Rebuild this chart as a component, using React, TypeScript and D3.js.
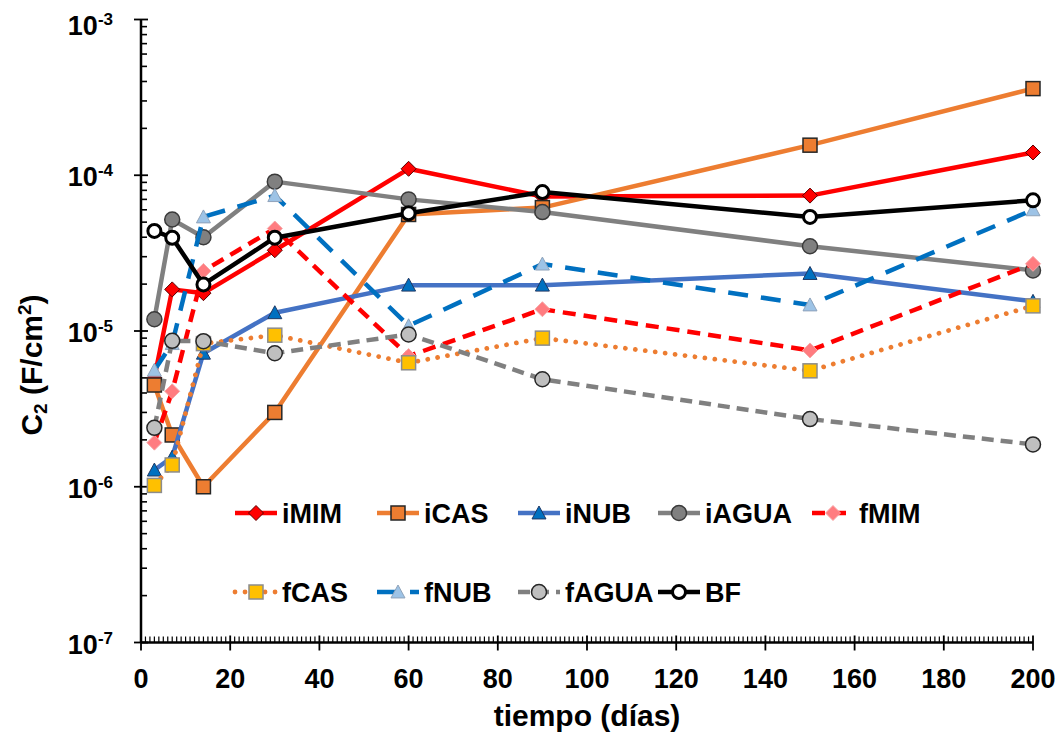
import React from "react";
import * as d3 from "d3";

// Immersion time (days)
const days = [3, 7, 14, 30, 60, 90, 150, 200];

// C2 capacitance (F/cm²) per coating / medium
const iMIM = [5.0e-6, 1.85e-5, 1.75e-5, 3.3e-5, 1.1e-4, 7.3e-5, 7.4e-5, 1.4e-4];
const iCAS = [4.5e-6, 2.15e-6, 1.0e-6, 3.0e-6, 5.6e-5, 6.2e-5, 1.56e-4, 3.6e-4];
const iNUB = [1.28e-6, 1.55e-6, 7.2e-6, 1.31e-5, 1.97e-5, 1.97e-5, 2.34e-5, 1.55e-5];
const iAGUA = [1.19e-5, 5.2e-5, 4.0e-5, 9.1e-5, 7.0e-5, 5.8e-5, 3.5e-5, 2.45e-5];
const fMIM = [1.92e-6, 4.1e-6, 2.43e-5, 4.55e-5, 6.9e-6, 1.38e-5, 7.5e-6, 2.7e-5];
const fCAS = [1.02e-6, 1.38e-6, 8.3e-6, 9.4e-6, 6.25e-6, 9.0e-6, 5.55e-6, 1.45e-5];
const fNUB = [5.6e-6, 8.3e-6, 5.4e-5, 7.4e-5, 1.08e-5, 2.69e-5, 1.47e-5, 6.0e-5];
const fAGUA = [2.39e-6, 8.65e-6, 8.6e-6, 7.2e-6, 9.5e-6, 4.9e-6, 2.72e-6, 1.87e-6];
const BF = [4.39e-5, 3.97e-5, 1.99e-5, 3.97e-5, 5.7e-5, 7.8e-5, 5.4e-5, 6.9e-5];

const xTicks = [0, 20, 40, 60, 80, 100, 120, 140, 160, 180, 200];
const yExponents = [-3, -4, -5, -6, -7];

type Shape = "diamond" | "square" | "triangle" | "circle";
interface Series {
  name: string;
  values: number[];
  color: string;
  dash?: string;
  cap?: "round" | "butt";
  width: number;
  shape: Shape;
  fill: string;
  stroke: string;
  strokeWidth: number;
  size: number;
}

const series: Series[] = [
  { name: "iMIM", values: iMIM, color: "#FF0000", width: 4.5, shape: "diamond", fill: "#FF0000", stroke: "#5a0000", strokeWidth: 1, size: 15 },
  { name: "iCAS", values: iCAS, color: "#ED7D31", width: 4.5, shape: "square", fill: "#ED7D31", stroke: "#262626", strokeWidth: 1.5, size: 14 },
  { name: "iNUB", values: iNUB, color: "#4472C4", width: 4.5, shape: "triangle", fill: "#0070C0", stroke: "#1F3864", strokeWidth: 1, size: 14 },
  { name: "iAGUA", values: iAGUA, color: "#808080", width: 4.5, shape: "circle", fill: "#808080", stroke: "#3a3a3a", strokeWidth: 1.5, size: 15 },
  { name: "fMIM", values: fMIM, color: "#FF0000", width: 4.5, dash: "13 8", shape: "diamond", fill: "#FF7C80", stroke: "#F7A8A8", strokeWidth: 1, size: 15 },
  { name: "fCAS", values: fCAS, color: "#ED7D31", width: 4.8, dash: "0.01 10", cap: "round", shape: "square", fill: "#FFC000", stroke: "#8C8C8C", strokeWidth: 1.5, size: 14 },
  { name: "fNUB", values: fNUB, color: "#0070C0", width: 4.5, dash: "20 13", shape: "triangle", fill: "#9DC3E6", stroke: "#8FA3BA", strokeWidth: 1, size: 14 },
  { name: "fAGUA", values: fAGUA, color: "#808080", width: 4.5, dash: "12 7", shape: "circle", fill: "#BFBFBF", stroke: "#262626", strokeWidth: 1.5, size: 15 },
  { name: "BF", values: BF, color: "#000000", width: 4.5, shape: "circle", fill: "#FFFFFF", stroke: "#000000", strokeWidth: 3, size: 13 },
];

const W = 1059;
const H = 736;
const FONT = "'Liberation Sans', Arial, Helvetica, sans-serif";

const x = d3.scaleLinear().domain([0, 200]).range([141, 1033]);
const y = d3.scaleLog().domain([1e-7, 1e-3]).range([642.5, 19.5]);

function Marker({ s, cx, cy }: { s: Series; cx: number; cy: number }) {
  const h = s.size / 2;
  const common = { fill: s.fill, stroke: s.stroke, strokeWidth: s.strokeWidth };
  if (s.shape === "circle") return <circle cx={cx} cy={cy} r={h} {...common} />;
  if (s.shape === "square")
    return <rect x={cx - h} y={cy - h} width={s.size} height={s.size} {...common} />;
  if (s.shape === "diamond")
    return <path d={`M${cx},${cy - h}L${cx + h},${cy}L${cx},${cy + h}L${cx - h},${cy}Z`} {...common} />;
  return (
    <path
      d={`M${cx},${cy - h}L${cx + h},${cy + h * 0.85}L${cx - h},${cy + h * 0.85}Z`}
      strokeLinejoin="miter"
      {...common}
    />
  );
}

const legendCols = [235, 377, 518, 658, 812];
const legendRows = [513, 592];

export default function App() {
  const line = d3
    .line<number>()
    .x((_, i) => x(days[i]))
    .y((v) => y(v));

  const minorY: number[] = [];
  for (let e = -7; e < -3; e++) {
    for (let k = 2; k <= 9; k++) minorY.push(k * Math.pow(10, e));
  }
  const minorX = d3.range(1, 201).filter((d) => d % 20 !== 0);

  const x0 = x(0);
  const yBase = y(1e-7);

  return (
    <svg
      width={W}
      height={H}
      viewBox={`0 0 ${W} ${H}`}
      style={{ position: "absolute", left: 0, top: 0, background: "#fff" }}
      fontFamily={FONT}
      fontWeight="bold"
    >
      <rect width={W} height={H} fill="#fff" />

      {/* y axis */}
      <line x1={x0} x2={x0} y1={y(1e-3)} y2={yBase} stroke="#000" strokeWidth={2.5} />
      {minorY.map((v, i) => (
        <line key={"my" + i} x1={x0} x2={x0 + 6} y1={y(v)} y2={y(v)} stroke="#000" strokeWidth={1.6} />
      ))}
      {yExponents.map((e) => {
        const ty = y(Math.pow(10, e));
        return (
          <g key={"ey" + e}>
            <line x1={x0 - 7} x2={x0 + 7} y1={ty} y2={ty} stroke="#000" strokeWidth={1.8} />
            <text x={113} y={Math.max(ty + 11, 35)} textAnchor="end" fontSize={27} fill="#000">
              10
              <tspan fontSize={17} dy={-10}>
                {String(e)}
              </tspan>
            </text>
          </g>
        );
      })}

      {/* x axis */}
      <line x1={x0} x2={x(200)} y1={yBase} y2={yBase} stroke="#000" strokeWidth={2.5} />
      {minorX.map((d) => (
        <line key={"mx" + d} x1={x(d)} x2={x(d)} y1={yBase} y2={yBase - 6} stroke="#000" strokeWidth={1.2} />
      ))}
      {xTicks.map((d) => (
        <g key={"tx" + d}>
          <line x1={x(d)} x2={x(d)} y1={yBase - 7} y2={yBase + 8} stroke="#000" strokeWidth={1.8} />
          <text x={x(d)} y={688} textAnchor="middle" fontSize={27} fill="#000">
            {d}
          </text>
        </g>
      ))}

      {/* axis titles */}
      <text x={(x(0) + x(200)) / 2} y={726} textAnchor="middle" fontSize={30} fill="#000">
        tiempo (días)
      </text>
      <text transform="translate(42,365) rotate(-90)" textAnchor="middle" fontSize={30} fill="#000">
        C<tspan fontSize={19} dy={5}>2</tspan>
        <tspan dy={-5}> (F/cm</tspan>
        <tspan fontSize={19} dy={-11}>2</tspan>
        <tspan dy={11}>)</tspan>
      </text>

      {/* series */}
      {series.map((s) => (
        <g key={s.name}>
          <path
            d={line(s.values) || ""}
            fill="none"
            stroke={s.color}
            strokeWidth={s.width}
            strokeDasharray={s.dash}
            strokeLinecap={s.cap || "butt"}
            strokeLinejoin="round"
          />
          {s.values.map((v, i) => (
            <Marker key={i} s={s} cx={x(days[i])} cy={y(v)} />
          ))}
        </g>
      ))}

      {/* legend */}
      {series.map((s, i) => {
        const row = i < 5 ? 0 : 1;
        const col = i < 5 ? i : i - 5;
        const lx = legendCols[col];
        const ly = legendRows[row];
        return (
          <g key={"lg" + s.name}>
            <line
              x1={lx}
              x2={lx + 42}
              y1={ly}
              y2={ly}
              stroke={s.color}
              strokeWidth={s.width}
              strokeDasharray={s.dash}
              strokeLinecap={s.cap || "butt"}
            />
            <Marker s={s} cx={lx + 21} cy={ly} />
            <text x={lx + 47} y={ly + 10} fontSize={27} fill="#000">
              {s.name}
            </text>
          </g>
        );
      })}
    </svg>
  );
}
